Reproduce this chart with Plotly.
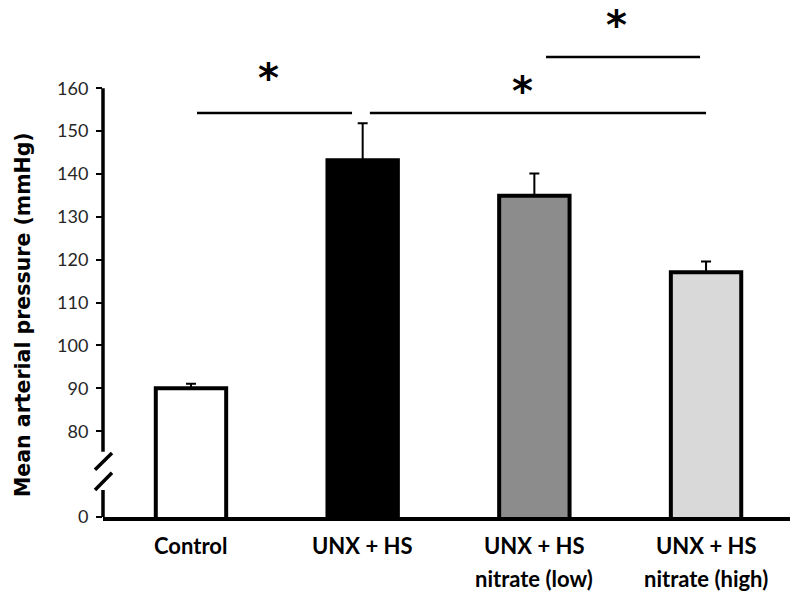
import plotly.graph_objects as go

# ---- data ----
categories = ["Control", "UNX + HS", "UNX + HS nitrate (low)", "UNX + HS nitrate (high)"]
label_line1 = ["Control", "UNX + HS", "UNX + HS", "UNX + HS"]
label_line2 = ["", "", "nitrate (low)", "nitrate (high)"]
map_mean = [90.0, 143.2, 134.9, 117.1]
map_sem = [1.1, 8.6, 5.2, 2.5]
bar_colors = ["#ffffff", "#000000", "#8c8c8c", "#d9d9d9"]

ytick_vals = [60, 80, 90, 100, 110, 120, 130, 140, 150, 160]
ytick_text = ["0", "80", "90", "100", "110", "120", "130", "140", "150", "160"]

# significance brackets: (x_start, x_end, y)
sig_lines = [(0.035, 0.938, 154.2), (1.042, 3.0, 154.2), (2.068, 2.965, 167.3)]
# stars: (x, y)
sig_stars = [(0.454, 163.8), (1.928, 160.8), (2.481, 176.2)]

x_pos = list(range(len(categories)))

fig = go.Figure()
fig.add_trace(go.Bar(
    x=x_pos, y=map_mean, width=0.41,
    marker=dict(color=bar_colors, line=dict(color="black", width=4)),
    error_y=dict(type="data", symmetric=False, array=map_sem,
                 arrayminus=[0] * len(map_sem), color="black",
                 thickness=2, width=5),
    showlegend=False, hoverinfo="skip",
))

shapes = []
# y axis with break
shapes.append(dict(type="line", xref="paper", yref="y", x0=0, x1=0, y0=75.2, y1=160,
                   line=dict(color="black", width=3.5)))
shapes.append(dict(type="line", xref="paper", yref="y", x0=0, x1=0, y0=60, y1=66.3,
                   line=dict(color="black", width=3.5)))
for ya, yb in [(71.0, 74.9), (66.3, 70.3)]:
    shapes.append(dict(type="line", xref="paper", yref="y", xsizemode="pixel", xanchor=0,
                       x0=-8, x1=9, y0=ya, y1=yb, line=dict(color="black", width=3.5)))
for x0, x1, yv in sig_lines:
    shapes.append(dict(type="line", xref="x", yref="y", x0=x0, x1=x1, y0=yv, y1=yv,
                       line=dict(color="black", width=2.5)))

STAR_SIZE = 40
annotations = []
for xs, ys in sig_stars:
    annotations.append(dict(x=xs, y=ys, xref="x", yref="y", text="*", showarrow=False,
                            font=dict(family="DejaVu Sans", size=STAR_SIZE, color="black",
                                      weight="bold"),
                            xanchor="center", yanchor="middle", yshift=-0.15 * STAR_SIZE))
LAB_FONT = dict(family="Lato", size=22, color="black", weight="bold")
for i in x_pos:
    annotations.append(dict(x=i, y=60, xref="x", yref="y", text=label_line1[i], showarrow=False,
                            font=LAB_FONT, xanchor="center", yanchor="middle", yshift=-28))
    if label_line2[i]:
        annotations.append(dict(x=i, y=60, xref="x", yref="y", text=label_line2[i],
                                showarrow=False, font=LAB_FONT,
                                xanchor="center", yanchor="middle", yshift=-61))
annotations.append(dict(x=-0.1164, y=107.1, xref="paper", yref="y",
                        text="<b>Mean arterial pressure (mmHg)</b>", showarrow=False,
                        textangle=-90, xanchor="center", yanchor="middle",
                        font=dict(family="DejaVu Sans", size=20.5, color="black")))

fig.update_layout(
    width=800, height=600,
    margin=dict(l=103, r=10, t=11, b=83),
    paper_bgcolor="white", plot_bgcolor="white",
    shapes=shapes, annotations=annotations,
    xaxis=dict(range=[-0.5125, 3.489], showgrid=False, zeroline=False,
               showline=True, linecolor="black", linewidth=3.5,
               showticklabels=False, ticks=""),
    yaxis=dict(range=[60, 178], showgrid=False, zeroline=False, showline=False,
               tickvals=ytick_vals, ticktext=ytick_text,
               ticks="outside", ticklen=6, tickwidth=2, tickcolor="black",
               ticklabelstandoff=4,
               tickfont=dict(family="Lato", size=18, color="#262626")),
)

# remove the browser's default 8px body margin so the figure fills the window
fig.write_html("out.html", config={"displayModeBar": False},
               post_script="document.body.style.margin='0px';document.body.style.overflow='hidden';")
